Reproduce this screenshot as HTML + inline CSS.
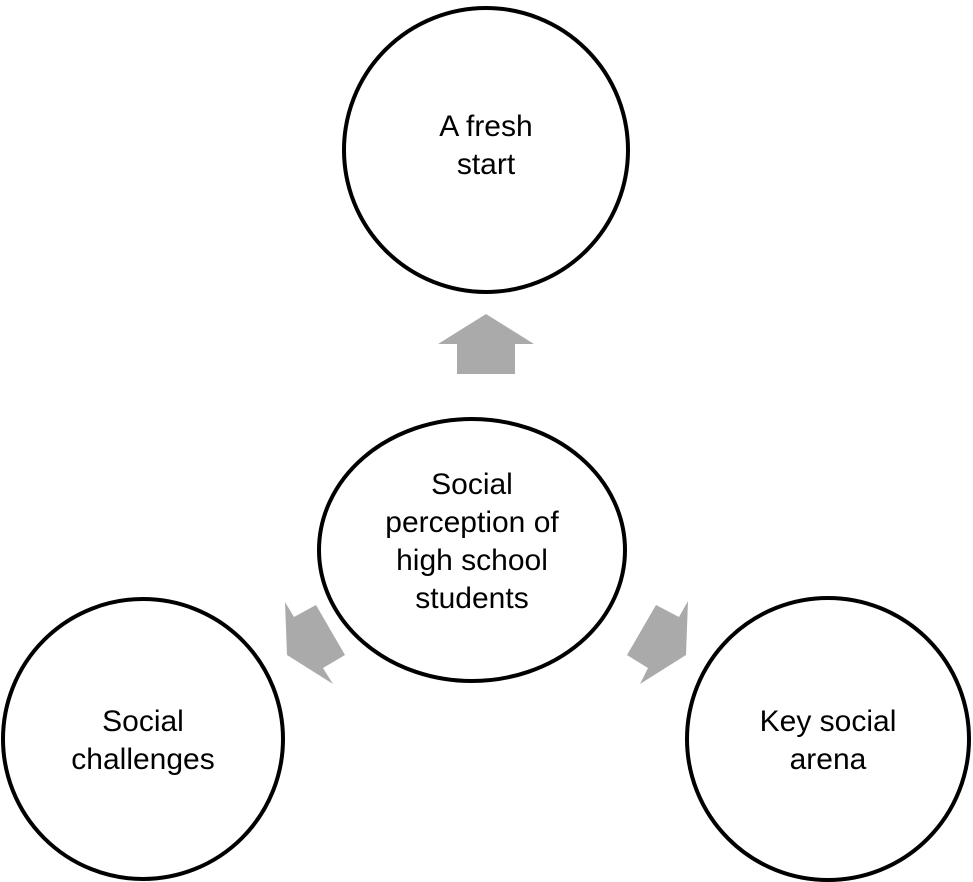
<!DOCTYPE html>
<html><head><meta charset="utf-8"><style>
html,body{margin:0;padding:0;background:#fff;}
svg{display:block;}
text{font-family:"Liberation Sans",Arial,sans-serif;font-size:30px;fill:#000;text-anchor:middle;}
</style></head><body>
<svg width="973" height="882" viewBox="0 0 973 882" xmlns="http://www.w3.org/2000/svg">
<g fill="none" stroke="#000" stroke-width="4">
<circle cx="486" cy="150" r="142"/>
<ellipse cx="472" cy="550" rx="153" ry="131"/>
<circle cx="143" cy="739" r="140"/>
<circle cx="828" cy="739" r="141"/>
</g>
<g fill="#aaaaaa">
<polygon points="486,314 534,344 515,344 515,374 457,374 457,344 438,344"/>
<polygon points="285,602 294,617 316,605 345,655 323,668 333,684 287,655"/>
<polygon points="688,601 679,617 656,605 627,655 648,668 640,684 686,655"/>
</g>
<text x="486" y="136">A fresh</text>
<text x="486" y="174">start</text>
<text x="472" y="494">Social</text>
<text x="472" y="532">perception of</text>
<text x="472" y="570">high school</text>
<text x="472" y="608">students</text>
<text x="143" y="731">Social</text>
<text x="143" y="769">challenges</text>
<text x="828" y="731">Key social</text>
<text x="828" y="769">arena</text>
</svg>
</body></html>
